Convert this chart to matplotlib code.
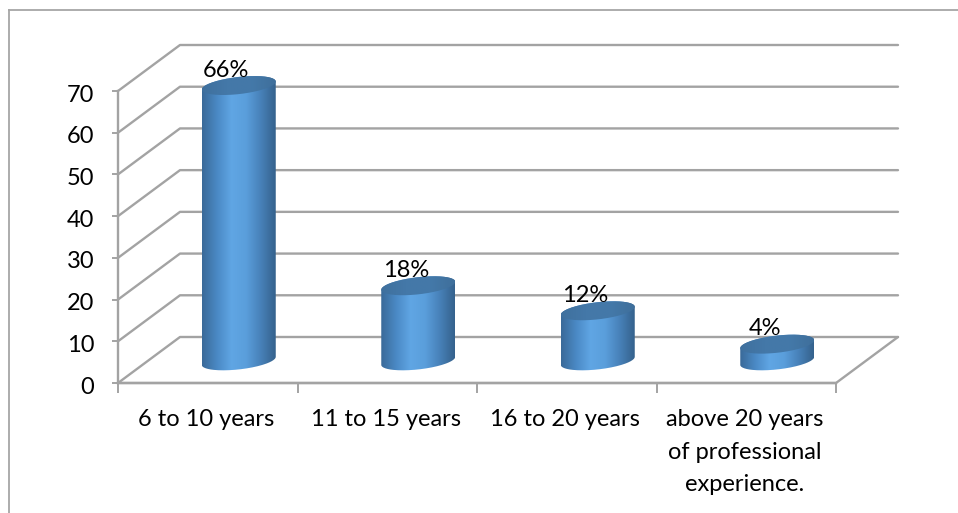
import numpy as np
import matplotlib
matplotlib.use("Agg")
import matplotlib.pyplot as plt
from matplotlib.colors import LinearSegmentedColormap
from matplotlib.lines import Line2D
from matplotlib.patches import PathPatch
from matplotlib.path import Path
from matplotlib.transforms import ScaledTranslation

categories = ["6 to 10 years", "11 to 15 years", "16 to 20 years",
              "above 20 years\nof professional\nexperience."]
values = [66, 18, 12, 4]
labels = ["66%", "18%", "12%", "4%"]
y_ticks = [0, 10, 20, 30, 40, 50, 60, 70]

W, H = 958, 513
GRID = "#a3a3a3"
FS = 17
plt.rcParams["font.family"] = ["Lato", "DejaVu Sans"]

fig = plt.figure(figsize=(W / 100, H / 100), dpi=100)
ax = fig.add_axes([118 / W, (H - 383) / H, 718 / W, 292 / H])
ax.set_xlim(0, 4)
ax.set_ylim(0, 70)
ax.patch.set_alpha(0)

# pseudo-3D depth of the floor, in data units
depth_x = 62 / 179.5
depth_y = 46 / (292 / 70)

# walls and floor
line_kw = dict(color=GRID, lw=1.7, clip_on=False, zorder=1, solid_capstyle="round")
for v in y_ticks:
    ax.plot([0, depth_x, 4 + depth_x], [v, v + depth_y, v + depth_y], **line_kw)
ax.plot([0, 4, 4 + depth_x], [0, 0, depth_y], **line_kw)

for side in ("top", "right"):
    ax.spines[side].set_visible(False)
for side in ("left", "bottom"):
    ax.spines[side].set_color(GRID)
    ax.spines[side].set_linewidth(1.7)

ax.set_yticks(y_ticks)
ax.set_xticks(range(5))
ax.set_xticklabels([])
ax.tick_params(axis="y", length=4, width=1.4, color=GRID, labelsize=FS, pad=13,
               labelcolor="black")
ax.tick_params(axis="x", length=7, width=1.4, color=GRID)
nudge = ScaledTranslation(0, -1.5 / 72, fig.dpi_scale_trans)
for lab in ax.get_yticklabels():
    lab.set_transform(lab.get_transform() + nudge)

for i, cat in enumerate(categories):
    ax.annotate(cat, (i + 0.5, 0), xytext=(-1, -19), textcoords="offset points",
                ha="center", va="top", fontsize=FS, color="black", linespacing=1.66,
                annotation_clip=False)

# cylinder geometry in data units
half_w = 37 / 179.5
semi_b = 8.6 / (292 / 70)
shear = 4.0 / (292 / 70)
t = np.linspace(0, np.pi, 80)

body_cmap = LinearSegmentedColormap.from_list(
    "body", ["#3a6a98", "#4a88c4", "#60a6e4", "#5a9edb", "#4780b8", "#35628c"])
cap_cmap = LinearSegmentedColormap.from_list(
    "cap", ["#3f709e", "#4478a8", "#4479a9", "#3f6f9b"])
ramp = np.linspace(0, 1, 256).reshape(1, -1)

for i, v in enumerate(values):
    cx = i + 0.5 + depth_x / 2
    base = depth_y / 2 - 0.2
    top = base + v

    # outline: along the far side of the top, down, along the near side of the base
    x_top = cx + half_w * np.cos(t)
    y_top = top + semi_b * np.sin(t) + shear * np.cos(t)
    x_bot = cx - half_w * np.cos(t)
    y_bot = base - semi_b * np.sin(t) - shear * np.cos(t)
    body = np.column_stack([np.r_[x_top, x_bot], np.r_[y_top, y_bot]])
    patch = PathPatch(Path(np.vstack([body, body[0]])), transform=ax.transData,
                      fc="none", ec="none", clip_on=False)
    ax.add_patch(patch)
    im = ax.imshow(ramp, cmap=body_cmap, aspect="auto", zorder=3,
                   extent=[cx - half_w, cx + half_w, base - 4, top + 4])
    im.set_clip_box(fig.bbox)
    im.set_clip_path(patch)

    tt = np.linspace(0, 2 * np.pi, 160)
    cap = np.column_stack([cx + half_w * np.cos(tt),
                           top + semi_b * np.sin(tt) + shear * np.cos(tt)])
    cap_patch = PathPatch(Path(cap), transform=ax.transData, fc="none", ec="none",
                          clip_on=False)
    ax.add_patch(cap_patch)
    im2 = ax.imshow(ramp, cmap=cap_cmap, aspect="auto", zorder=4,
                    extent=[cx - half_w, cx + half_w, top - 4, top + 4])
    im2.set_clip_box(fig.bbox)
    im2.set_clip_path(cap_patch)

    ax.annotate(labels[i], (cx, top), xytext=(-9, 11), textcoords="offset points",
                ha="center", va="center", fontsize=FS, color="black", zorder=5,
                annotation_clip=False)

ax.set_xlim(0, 4)
ax.set_ylim(0, 70)

# outer chart frame, cut off by the canvas on the right and bottom
frame = dict(color="#a6a6a6", lw=1.3, transform=fig.transFigure)
fig.add_artist(Line2D([9 / W, 1], [1 - 10 / H, 1 - 10 / H], **frame))
fig.add_artist(Line2D([9 / W, 9 / W], [1 - 10 / H, 0], **frame))

fig.savefig("out.png", dpi=100)
